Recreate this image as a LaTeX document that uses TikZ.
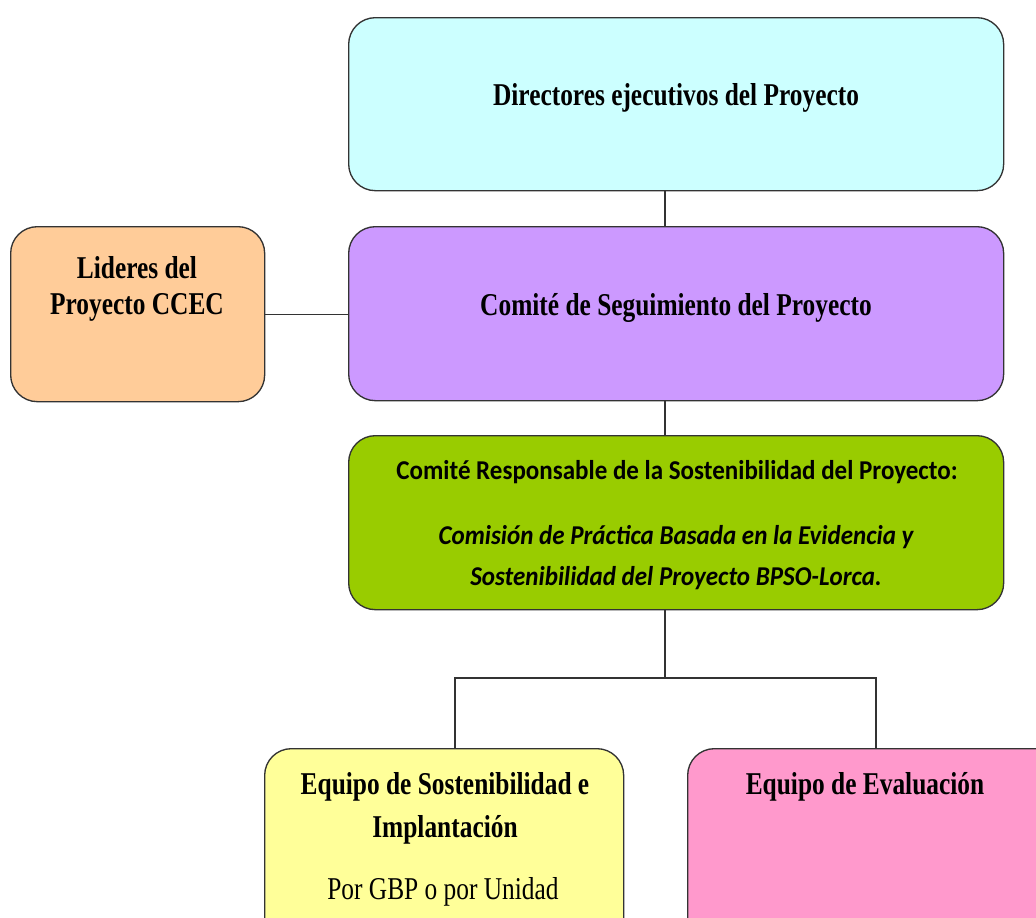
\documentclass[tikz,border=0pt]{standalone}
\usepackage{fontspec}
\setmainfont{Liberation Serif}
\newfontfamily\calib{Carlito}
\definecolor{cCyan}{HTML}{CCFFFF}
\definecolor{cPurple}{HTML}{CC99FF}
\definecolor{cOrange}{HTML}{FFCC99}
\definecolor{cGreen}{HTML}{99CC00}
\definecolor{cYellow}{HTML}{FFFF99}
\definecolor{cPink}{HTML}{FF99CC}
\definecolor{cLine}{HTML}{333333}
\newcommand{\tb}[1]{\scalebox{0.8}[1]{\bfseries #1}}
\begin{document}
\begin{tikzpicture}[x=0.75pt,y=-0.75pt,
  box/.style={draw=cLine, line width=1pt, rounded corners=20pt, anchor=north west, inner sep=0pt},
  conn/.style={draw=cLine, line width=1pt},
  ttxt/.style={font=\fontsize{23.8}{30}\selectfont, inner sep=0pt, align=center},
  gtxt/.style={font=\calib\fontsize{20.4}{26}\selectfont, inner sep=0pt, align=center}]
\useasboundingbox (0,0) rectangle (1036,918);
\clip (0,0) rectangle (1036,918);
% boxes
\node[box, fill=cCyan, minimum width=655*0.75pt, minimum height=173*0.75pt] (dir) at (348,17) {};
\node[box, fill=cPurple, minimum width=655*0.75pt, minimum height=174*0.75pt] (seg) at (348,226) {};
\node[box, fill=cOrange, minimum width=254*0.75pt, minimum height=175*0.75pt] (lid) at (10,226) {};
\node[box, fill=cGreen, minimum width=655*0.75pt, minimum height=174*0.75pt] (sos) at (348,435) {};
\node[box, fill=cYellow, minimum width=359*0.75pt, minimum height=200*0.75pt] (imp) at (264,748) {};
\node[box, fill=cPink, minimum width=380*0.75pt, minimum height=200*0.75pt] (eva) at (687,748) {};
% connectors
\coordinate (trunk) at (665,0);
\coordinate (split) at (665,678);
\draw[conn] (dir.south -| trunk) -- (seg.north -| trunk);
\draw[conn] (seg.south -| trunk) -- (sos.north -| trunk);
\draw[conn] (lid.east) -- (lid.east -| seg.west);
\coordinate (ileg) at (455,0);
\coordinate (eleg) at (876,0);
\draw[conn] (sos.south -| trunk) -- (split);
\draw[conn] (imp.north -| ileg) -- (split -| ileg) -- (split -| eleg) -- (eva.north -| eleg);
% texts
\node[ttxt] (tdir) at (676,98) {\tb{Directores ejecutivos del Proyecto}};
\node[ttxt] (tseg) at (676,308) {\tb{Comité de Seguimiento del Proyecto}};
\node[ttxt] (tlid1) at (137,268) {\tb{Lideres del}};
\node[ttxt] (tlid2) at (137,307) {\tb{Proyecto CCEC}};
\node[gtxt] (tsos1) at (677,472) {\scalebox{0.92}[1]{\bfseries Comité Responsable de la Sostenibilidad del Proyecto:}};
\node[gtxt] (tsos2) at (676,537) {\scalebox{0.92}[1]{\bfseries\itshape Comisión de Práctica Basada en la Evidencia y}};
\node[gtxt] (tsos3) at (676,578) {\scalebox{0.92}[1]{\bfseries\itshape Sostenibilidad del Proyecto BPSO-Lorca.}};
\node[ttxt] (timp1) at (445,787) {\tb{Equipo de Sostenibilidad e}};
\node[ttxt] (timp2) at (445,830) {\tb{Implantación}};
\node[ttxt] (timp3) at (443,892) {\scalebox{0.8}[1]{Por GBP o por Unidad}};
\node[ttxt] (teva) at (865,787) {\tb{Equipo de Evaluación}};
\end{tikzpicture}
\end{document}
